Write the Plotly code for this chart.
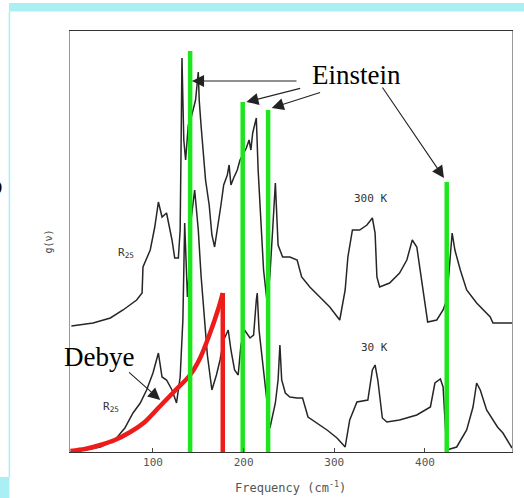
import plotly.graph_objects as go

# Phonon density of states g(nu) at two temperatures (arbitrary units)
freq_300k = [10, 34, 53, 67, 82, 88, 89, 97, 102, 106, 110, 115, 121, 124, 128, 130, 131, 132, 133, 134,
             136, 139, 142, 145, 147, 150, 151, 153, 155, 158, 162, 165, 168, 172, 175, 178, 182, 184,
             186, 189, 193, 196, 199, 203, 206, 208, 210, 214, 216, 219, 222, 226, 229, 232, 235, 238,
             243, 251, 259, 264, 273, 284, 295, 306, 312, 315, 320, 328, 336, 342, 345, 347, 350, 361,
             372, 380, 386, 391, 397, 403, 413, 420, 424, 430, 433, 439, 446, 457, 472, 475, 496]
g_300k = [0.00, 0.03, 0.08, 0.16, 0.26, 0.33, 0.59, 0.76, 0.99, 1.24, 1.09, 1.13, 0.86, 0.68, 0.68, 0.96,
          1.79, 2.68, 2.26, 1.86, 1.66, 2.01, 2.08, 2.18, 2.26, 2.54, 2.26, 2.01, 1.76, 1.46, 1.21, 0.91,
          0.79, 1.01, 1.21, 1.41, 1.51, 1.61, 1.41, 1.48, 1.56, 1.66, 1.71, 1.78, 1.86, 1.76, 1.93, 2.08,
          1.56, 1.06, 0.56, 0.23, 0.51, 0.96, 1.43, 0.81, 0.69, 0.69, 0.66, 0.49, 0.39, 0.29, 0.19, 0.06,
          0.36, 0.69, 0.96, 0.96, 1.01, 1.08, 0.93, 0.49, 0.39, 0.43, 0.53, 0.66, 0.86, 0.79, 0.43, 0.04,
          0.06, 0.16, 0.26, 0.93, 0.76, 0.56, 0.36, 0.23, 0.09, 0.03, 0.03]

freq_30k = [9, 25, 42, 58, 69, 78, 86, 93, 100, 106, 110, 115, 121, 126, 130, 133, 135, 138, 140, 142,
            146, 150, 153, 156, 160, 165, 170, 174, 178, 183, 186, 190, 194, 197, 201, 207, 211, 214,
            215, 217, 220, 224, 227, 229, 235, 238, 240, 242, 246, 251, 259, 265, 271, 281, 292, 303,
            312, 317, 325, 337, 342, 345, 348, 353, 358, 372, 391, 406, 411, 417, 420, 424, 435, 446,
            453, 457, 461, 468, 480, 486, 496]
g_30k = [0.00, 0.02, 0.05, 0.12, 0.24, 0.39, 0.49, 0.62, 0.79, 0.99, 0.75, 0.72, 0.62, 0.49, 0.75, 1.32,
         2.29, 1.55, 1.82, 2.32, 2.62, 2.22, 1.77, 1.42, 0.97, 0.62, 0.77, 0.92, 1.12, 1.22, 1.02, 0.82,
         0.77, 1.07, 1.22, 1.14, 1.17, 1.52, 1.59, 1.22, 0.97, 0.67, 0.37, 0.24, 0.49, 0.72, 1.07, 0.72,
         0.59, 0.55, 0.54, 0.54, 0.35, 0.29, 0.22, 0.14, 0.05, 0.32, 0.50, 0.52, 0.82, 0.87, 0.72, 0.34,
         0.30, 0.32, 0.37, 0.45, 0.69, 0.73, 0.65, 0.02, 0.05, 0.22, 0.45, 0.69, 0.62, 0.42, 0.25, 0.19,
         0.04]

# Debye model curve up to the cutoff frequency
debye_freq = [9, 25, 42, 58, 75, 91, 108, 124, 141, 152, 163, 172, 177]
debye_g = [0.01, 0.03, 0.07, 0.12, 0.20, 0.30, 0.46, 0.61, 0.77, 0.94, 1.19, 1.43, 1.59]
debye_cutoff = 177

# Einstein oscillator frequencies and drawn line heights
einstein_freq = [141, 199, 227, 424]
einstein_top = [4.01, 3.50, 3.42, 2.70]

x_ticks = [100, 200, 300, 400]

OFFSET_300K = 1.26  # vertical shift of the 300 K spectrum above the 30 K one

fig = go.Figure()

curve_style = dict(color="#262626", width=1.5)
fig.add_trace(go.Scatter(x=freq_300k, y=[v + OFFSET_300K for v in g_300k],
                         mode="lines", line=curve_style, hoverinfo="skip"))
fig.add_trace(go.Scatter(x=freq_30k, y=g_30k, mode="lines", line=curve_style, hoverinfo="skip"))

# Debye curve, smoothed, then the vertical drop at the cutoff
fig.add_trace(go.Scatter(x=debye_freq, y=debye_g, mode="lines",
                         line=dict(color="#ee1b1b", width=4.5, shape="spline", smoothing=0.8),
                         hoverinfo="skip"))
fig.add_trace(go.Scatter(x=[debye_cutoff, debye_cutoff], y=[debye_g[-1], 0], mode="lines",
                         line=dict(color="#ee1b1b", width=4.5), hoverinfo="skip"))

# Einstein frequencies as vertical bars
ex, ey = [], []
for f, top in zip(einstein_freq, einstein_top):
    ex += [f, f, None]
    ey += [0, top, None]
fig.add_trace(go.Scatter(x=ex, y=ey, mode="lines",
                         line=dict(color="#1ee61e", width=4.5), hoverinfo="skip"))

serif = "Liberation Serif, Times New Roman, serif"
mono = "DejaVu Sans Mono, Liberation Mono, monospace"

annotations = [
    dict(x=324, y=3.77, text="Einstein", showarrow=False,
         font=dict(family=serif, size=27, color="black")),
    dict(x=41, y=0.95, text="Debye", showarrow=False,
         font=dict(family=serif, size=27, color="black")),
    dict(x=340, y=2.54, text="300 K", showarrow=False,
         font=dict(family=mono, size=11, color="#333")),
    dict(x=344, y=1.05, text="30 K", showarrow=False,
         font=dict(family=mono, size=11, color="#333")),
    dict(x=70, y=1.99, text="R<sub>25</sub>", showarrow=False,
         font=dict(family=mono, size=11, color="#333")),
    dict(x=54, y=0.45, text="R<sub>25</sub>", showarrow=False,
         font=dict(family=mono, size=11, color="#333")),
    # axis title placed explicitly below the tick labels
    dict(x=0.498, y=-0.083, xref="paper", yref="paper", xanchor="center", yanchor="middle",
         text="Frequency (cm<sup>-1</sup>)", showarrow=False,
         font=dict(family=mono, size=12, color="#555")),
    # glyph at the left edge of the page
    dict(x=-0.147, y=0.634, xref="paper", yref="paper", xanchor="right", yanchor="middle",
         text="o", showarrow=False, font=dict(family=serif, size=27, color="black")),
]

# arrows: (head x, head y, tail x, tail y)
arrows = [
    (143, 3.71, 260, 3.71),
    (203, 3.50, 264, 3.64),
    (231, 3.44, 286, 3.60),
    (421, 2.74, 352, 3.66),
    (108, 0.52, 72, 0.81),
]
for hx, hy, tx, ty in arrows:
    annotations.append(dict(x=hx, y=hy, ax=tx, ay=ty, xref="x", yref="y",
                            axref="x", ayref="y", text="", showarrow=True,
                            arrowhead=2, arrowsize=2.2, arrowwidth=1.1,
                            arrowcolor="#222"))

cyan = "#aaeff4"
shapes = [
    dict(type="rect", xref="paper", yref="paper", x0=-0.138, x1=1.03, y0=1.0463, y1=1.0665,
         fillcolor=cyan, line=dict(width=0), layer="below"),
    dict(type="line", xref="paper", yref="paper", x0=-0.137, x1=-0.137, y0=-0.06, y1=1.0463,
         line=dict(color=cyan, width=1.5)),
    dict(type="rect", xref="paper", yref="paper", x0=-0.16, x1=-0.137, y0=-0.11, y1=-0.0594,
         fillcolor=cyan, line=dict(width=0)),
]

fig.update_layout(
    width=524, height=498,
    margin=dict(l=70, r=12, t=31, b=46),
    paper_bgcolor="white", plot_bgcolor="white",
    showlegend=False,
    annotations=annotations,
    shapes=shapes,
    xaxis=dict(range=[8.5, 496], tickvals=x_ticks, ticktext=[str(t) for t in x_ticks],
               ticks="inside", ticklen=4, tickcolor="#444", showgrid=False, zeroline=False,
               showline=True, linecolor="#333", linewidth=1.2, mirror=True,
               tickfont=dict(family=mono, size=11, color="#555")),
    yaxis=dict(range=[0, 4.21], showticklabels=False, ticks="", showgrid=False, zeroline=False,
               showline=True, linecolor="#999", linewidth=1, mirror=True,
               title=dict(text="g(ν)", standoff=14,
                          font=dict(family=mono, size=10, color="#444"))),
)

fig.write_html("out.html")
